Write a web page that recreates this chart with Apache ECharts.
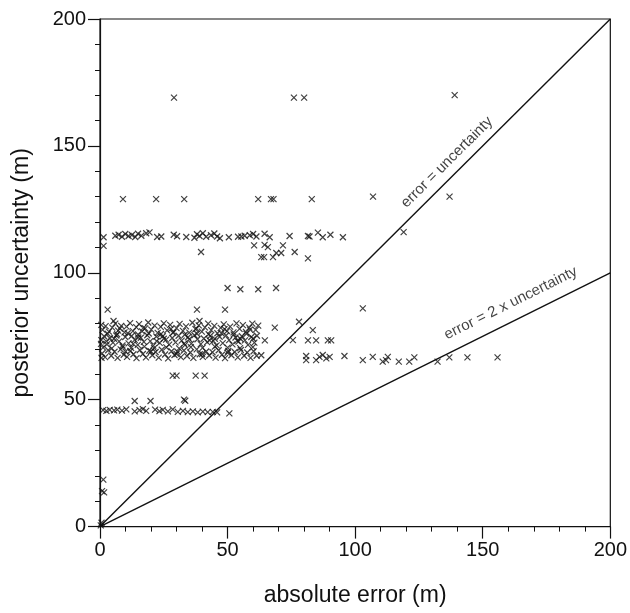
<!DOCTYPE html>
<html>
<head>
<meta charset="utf-8">
<script src="https://cdn.jsdelivr.net/npm/echarts@6/dist/echarts.min.js"></script>
<style>html,body{margin:0;padding:0;background:#fff}#c{width:630px;height:613px}</style>
</head>
<body>
<div id="c"></div>
<script>
// ---- data (absolute error m, posterior uncertainty m) ----
var outliers = [
  [29,169],[76,169],[80,169],[139,170],
  [9,129],[22,129],[33,129],[62,129],[67,129],[68,129],[83,129],[107,130],[137,130],
  [119,116],
  [50,94],[55,93.5],[62,93.5],[69,94],
  [3,85.5],[38,85.5],[49,85.5],[103,86],
  [39,81],[5.3,81],[78,80.7],[83.4,77.4],[68.5,78.4],[64.6,73.4],
  [75.6,73.5],[81.5,73.4],[84.7,73.4],[89.3,73.4],[90.6,73.4],
  [28.5,59.5],[30,59.5],[37.5,59.5],[41,59.5],
  [13.6,49.5],[19.8,49.5],[32.9,50],[33.4,49.6]
];
var band115 = [
  [1.4,114],[1.4,110.6],[6,114.6],[7.3,115],[8.6,114.2],[9.9,115.3],[11.2,114.5],[12.5,114.9],
  [13.8,114.1],[14.9,115.4],[16.2,114.6],[18.1,115.6],[19.4,115.9],[22.4,114.1],[24,114.3],
  [28.9,115],[30.2,114.4],[33.8,114.1],[37,113.8],[38,115.2],[39,114.5],[40.3,115.6],
  [41.6,114.2],[43.5,114.8],[44.8,115.5],[45.9,114.3],[47,113.6],[50.5,114],
  [54.1,114.2],[55.4,114.3],[56.7,114.6],[58.7,114.8],[60,115.3],[61.3,114.3],
  [64.5,115.4],[66.5,114],[74.3,114.5],[81.5,114.5],[82.1,114.3],[85.4,115.8],[87.3,114],
  [90.3,115],[95.2,114],
  [39.6,108.2],[60.4,110.8],[64.5,111],[65.8,110.1],[63.2,106.2],[64.3,106.2],[67.8,106.2],
  [69.1,107.8],[71,107.8],[71.7,110.8],[76.3,108.2],[81.5,105.7]
];
var band67 = [
  [80.8,67.2],[80.8,65.6],[84.7,65.6],[86,66.9],[87.3,67.6],[88.7,66.3],[90,66.9],[95.8,67.2],
  [103,65.6],[106.9,66.9],[110.8,65],[112.1,65.6],[112.8,66.9],[117.1,65],[121.2,65],[123.2,66.7],
  [132.3,65],[136.9,66.7],[144,66.7],[155.8,66.7]
];
var band46 = [
  [1.2,45.9],[2.5,45.6],[3.8,46],[5.5,45.8],[6.8,46.1],[8.6,45.7],[10.3,46.2],[13.6,45.4],
  [15.5,45.9],[16.8,46.3],[18.1,45.6],[21.6,46.1],[23.3,45.5],[24.6,46],[26.6,45.4],[28.5,46.2],
  [30.5,45.2],[32.5,45.6],[34.4,45.1],[36.4,45.4],[38.3,45],[40.3,45.3],[42.2,45.1],[44.2,45.2],
  [45.9,45],[50.7,44.6]
];
var nearOrigin = [[1.3,18.5],[0.8,14],[1.6,13.5],[0.3,0.5],[0.6,1.5]];
var cluster75 = [
  [1,77.5],[2.2,79],[3.5,76.8],[4.8,78.4],[6,80],[7.1,77.2],[8.3,79.1],[9.6,76.5],[10.4,78.8],[11.8,80.2],
  [12.9,77],[14.2,78.6],[15.3,79.8],[16.5,76.9],[17.7,78.1],[18.9,80.4],[20.1,77.6],[21.4,79.2],[22.6,76.3],
  [23.8,78.7],[25,80.1],[26.3,77.3],[27.5,79.5],[28.8,76.6],[30,78.2],[31.2,79.9],[32.5,77.1],[33.7,78.9],
  [35,76.4],[36.2,80.3],[37.4,77.8],[38.7,79.3],[39.9,76.8],[41.1,78.5],[42.4,80],[43.6,77.4],[44.8,79.1],
  [46,76.2],[47.3,78.3],[48.5,79.7],[49.8,77],[51,78.8],[52.3,76.5],[53.5,80.1],[54.7,77.9],[56,79.4],
  [57.2,76.7],[58.5,78.4],[59.7,80],[61,77.5],[62,79.2],
  [0.5,73.5],[1.6,75],[2.7,71.8],[3.9,74.2],[5.1,72.5],[6.4,75.3],[7.5,73],[8.8,71.4],[9.9,74.7],[11.2,72.2],
  [12.4,75.1],[13.6,73.6],[14.8,71.6],[16,74.4],[17.2,72.8],[18.5,75.4],[19.7,73.1],[20.9,71.3],[22.1,74.9],
  [23.4,72.4],[24.6,75],[25.9,73.7],[27.1,71.7],[28.3,74.3],[29.6,72.6],[30.8,75.2],[32,73.3],[33.3,71.5],
  [34.5,74.6],[35.8,72.1],[37,75.4],[38.2,73.8],[39.5,71.9],[40.7,74.1],[42,72.7],[43.2,75.1],[44.4,73.2],
  [45.7,71.4],[46.9,74.8],[48.1,72.3],[49.4,75.3],[50.6,73.5],[51.9,71.8],[53.1,74.5],[54.3,72.9],[55.6,75],
  [56.8,73.4],[58,71.6],[59.3,74.7],[60.5,72.5],[61.5,75.2],
  [0.8,68.2],[2,66.8],[3.2,69.5],[4.4,67.3],[5.7,68.9],[6.9,66.5],[8.1,69.8],[9.3,67.7],[10.6,66.9],[11.9,69.2],
  [13.1,67.9],[14.3,66.4],[15.6,69.6],[16.8,68],[18,66.7],[19.3,69.3],[20.5,67.5],[21.8,68.8],[23,66.6],
  [24.2,69.7],[25.5,67.8],[26.7,66.3],[28,69.1],[29.2,67.6],[30.4,68.9],[31.7,66.8],[32.9,69.4],[34.1,67.2],
  [35.4,68.6],[36.6,66.5],[37.9,69.8],[39.1,67.9],[40.3,66.9],[41.6,69],[42.8,67.4],[44.1,68.7],[45.3,66.6],
  [46.5,69.5],[47.8,67.7],[49,66.4],[50.3,69.2],[51.5,67.5],[52.8,68.8],[54,66.7],[55.2,69.6],[56.5,67.3],
  [57.7,68.6],[59,66.5],[60.2,69.1],[61.4,67.3],[63.2,67.5],
  [1.2,70.5],[3,76],[4.6,70.2],[6.7,75.8],[8.9,70.8],[10.9,76.2],[12.2,70.4],[14.9,75.7],[17.4,70.9],[19.1,76.1],
  [21.2,70.3],[23.9,75.9],[26,70.6],[28.6,76.3],[31,70.2],[33.2,75.6],[35.6,70.7],[38,76],[40.2,70.4],[42.6,75.8],
  [45,70.9],[47.6,76.2],[50,70.5],[52.4,75.7],[54.9,70.3],[57.4,76],[59.9,70.7],[2.5,73],[7.8,78],[13,72],
  [17,78.3],[22.2,73.1],[27.8,77.9],[33,72.1],[37.8,78],[43,73.4],[48.8,77.8],[53.8,73.2],[58.8,77.6],[5.5,74],
  [10,69],[15,74.5],[20,69],[25,74],[30,68],[35,73.8],[40,68],[45,74],[50,68.5],[55,74],[60,74],
  [0.5,79.5],[0.4,72],[0.6,66.5]
];
var refOne = [[0,0],[200,200]];
var refTwo = [[0,0],[200,100]];
var annotations = [
  {text:'error = uncertainty', at:[136,143.5], angle:44.8},
  {text:'error = 2 x uncertainty', at:[161,88], angle:26.4}
];
var xTicks = [0,50,100,150,200];
var yTicks = [0,50,100,150,200];

var FONT = '"Liberation Sans", Arial, Helvetica, sans-serif';
var INK = '#111';
var points = [].concat(outliers, band115, band67, band46, nearOrigin, cluster75);

var chart = echarts.init(document.getElementById('c'), null, {renderer:'canvas'});
chart.setOption({
  animation:false,
  backgroundColor:'#fff',
  grid:{left:100, right:18.5, top:19, bottom:86.4, show:true, borderColor:INK, borderWidth:1.2},
  xAxis:{
    type:'value', min:xTicks[0], max:xTicks[xTicks.length-1], interval:50,
    name:'absolute error (m)', nameLocation:'middle', nameGap:58,
    nameTextStyle:{fontFamily:FONT, fontSize:23, color:INK},
    axisLine:{show:true, lineStyle:{color:INK, width:1.2}},
    axisTick:{show:true, inside:false, length:12, lineStyle:{color:INK, width:1.2}},
    minorTick:{show:true, splitNumber:5, length:5, lineStyle:{color:INK, width:1}},
    axisLabel:{fontFamily:FONT, fontSize:20, color:INK, margin:14},
    splitLine:{show:false}
  },
  yAxis:{
    type:'value', min:yTicks[0], max:yTicks[yTicks.length-1], interval:50,
    name:'posterior uncertainty (m)', nameLocation:'middle', nameGap:67,
    nameTextStyle:{fontFamily:FONT, fontSize:23, color:INK},
    axisLine:{show:true, lineStyle:{color:INK, width:1.2}},
    axisTick:{show:true, inside:false, length:12, lineStyle:{color:INK, width:1.2}},
    minorTick:{show:true, splitNumber:5, length:5, lineStyle:{color:INK, width:1}},
    axisLabel:{fontFamily:FONT, fontSize:20, color:INK, margin:14},
    splitLine:{show:false}
  },
  series:[
    {type:'line', data:refOne, symbol:'none', lineStyle:{color:INK, width:1.4}, z:2},
    {type:'line', data:refTwo, symbol:'none', lineStyle:{color:INK, width:1.4}, z:2},
    {type:'scatter', data:points, symbol:'path://M0,0L10,10M10,0L0,10', symbolSize:6,
     itemStyle:{color:'rgba(0,0,0,0)', borderColor:INK, borderWidth:1.2}, z:3},
    {type:'scatter', symbolSize:0, z:4,
     data:annotations.map(function(a){
       return {value:a.at, label:{show:true, position:'inside', rotate:a.angle, formatter:a.text,
         fontFamily:FONT, fontSize:15, color:INK}};
     })}
  ]
});
</script>
</body>
</html>
